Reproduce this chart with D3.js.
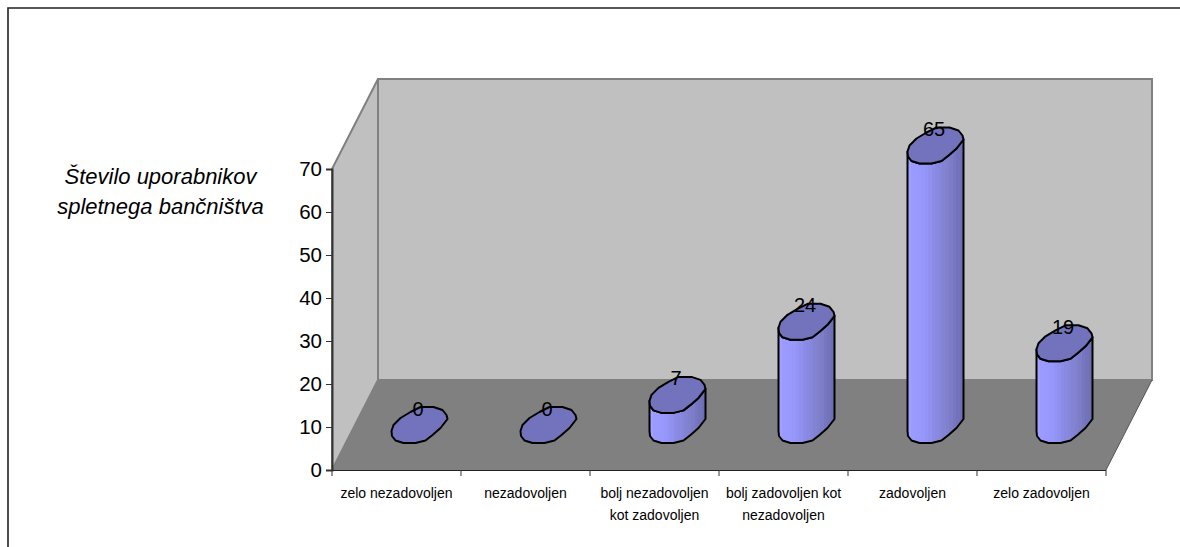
<!DOCTYPE html>
<html>
<head>
<meta charset="utf-8">
<script src="https://cdnjs.cloudflare.com/ajax/libs/d3/7.8.5/d3.min.js"></script>
<style>
html,body{margin:0;padding:0;background:#fff}
svg{display:block}
text{font-family:"Liberation Sans",Arial,sans-serif;fill:#000}
</style>
</head>
<body>
<svg id="chart" width="1180" height="547"></svg>
<script>
const categories = [
  ["zelo nezadovoljen"],
  ["nezadovoljen"],
  ["bolj nezadovoljen", "kot zadovoljen"],
  ["bolj zadovoljen kot", "nezadovoljen"],
  ["zadovoljen"],
  ["zelo zadovoljen"]
];
const values = [0, 0, 7, 24, 65, 19];
const yTicks = [0, 10, 20, 30, 40, 50, 60, 70];
const axisTitle = ["Število uporabnikov", "spletnega bančništva"];

// Plot box of the 3-D chart: front edge and the offset of the back wall.
const plotLeft = 332, plotRight = 1106, plotBottom = 470, plotTop = 169;
const depthX = 46, depthY = -90;

const svg = d3.select("#chart");
const x = d3.scaleBand().domain(d3.range(categories.length)).range([plotLeft, plotRight]);
const y = d3.scaleLinear().domain([0, 70]).range([plotBottom, plotTop]);

// Outer frame
svg.append("path").attr("d", "M8,547V8H1180")
  .attr("fill", "none").attr("stroke", "#222").attr("stroke-width", 1.6);

// Walls and floor
const wallStroke = "#808080";
svg.append("path")
  .attr("d", `M${plotLeft},${plotBottom}L${plotLeft},${plotTop}L${plotLeft + depthX},${plotTop + depthY}L${plotLeft + depthX},${plotBottom + depthY}Z`)
  .attr("fill", "#c0c0c0").attr("stroke", wallStroke).attr("stroke-width", 2);
svg.append("rect")
  .attr("x", plotLeft + depthX).attr("y", plotTop + depthY)
  .attr("width", plotRight - plotLeft).attr("height", plotBottom - plotTop)
  .attr("fill", "#c0c0c0").attr("stroke", wallStroke).attr("stroke-width", 2);
svg.append("path")
  .attr("d", `M${plotLeft},${plotBottom}L${plotRight},${plotBottom}L${plotRight + depthX},${plotBottom + depthY}L${plotLeft + depthX},${plotBottom + depthY}Z`)
  .attr("fill", "#808080");
svg.append("line")
  .attr("x1", plotRight).attr("y1", plotBottom)
  .attr("x2", plotRight + depthX).attr("y2", plotBottom + depthY)
  .attr("stroke", "#555").attr("stroke-width", 1);

// Axes
const axisColor = "#333";
const yAxis = svg.append("g").attr("transform", `translate(${plotLeft},0)`)
  .call(d3.axisLeft(y).tickValues(yTicks).tickSize(6).tickPadding(4));
yAxis.select(".domain").attr("stroke", axisColor).attr("stroke-width", 2);
yAxis.selectAll(".tick line").attr("stroke", axisColor);
yAxis.selectAll(".tick text").attr("font-size", 20.5)
  .style("font-family", '"Liberation Sans",Arial,sans-serif').attr("fill", "#000");

svg.append("line").attr("x1", plotLeft).attr("x2", plotRight).attr("y1", plotBottom + .5).attr("y2", plotBottom + .5)
  .attr("stroke", "#222").attr("stroke-width", 1.2);
const xEdges = d3.range(categories.length + 1).map(i => plotLeft + i * x.step());
svg.selectAll(".xtick").data(xEdges).join("line").attr("class", "xtick")
  .attr("x1", d => d).attr("x2", d => d).attr("y1", plotBottom).attr("y2", plotBottom + 6)
  .attr("stroke", "#333");

// Category labels
const catLabels = svg.selectAll(".cat").data(categories).join("text").attr("class", "cat")
  .attr("text-anchor", "middle").attr("font-size", 14);
catLabels.selectAll("tspan").data((d, i) => d.map(t => ({ t, i }))).join("tspan")
  .attr("x", d => x(d.i) + x.bandwidth() / 2)
  .attr("y", (d, j) => 498 + j * 22)
  .text(d => d.t);

// Axis title
svg.selectAll(".ytitle").data(axisTitle).join("text").attr("class", "ytitle")
  .attr("x", 160.5).attr("y", (d, i) => 184 + i * 30)
  .attr("text-anchor", "middle").attr("font-size", 22).attr("font-style", "italic")
  .text(d => d);

// Cylinder footprint as a faceted outline around its centre, clockwise from the
// right-hand side; the first nine vertices form the front half.
const capOutline = [
  [28, -6], [21, 3], [13, 10], [6, 15.5], [-4, 18], [-16, 18], [-24, 15.5], [-27.5, 11], [-28, 6],
  [-26, 0], [-19, -7], [-9, -13], [1, -18], [14, -18], [23, -15], [27, -10]
];
const frontCount = 9;
const place = (cx, cy) => ([dx, dy]) => [cx + dx, cy + dy];
const capLine = d3.line().curve(d3.curveLinearClosed);

// Shading across the body, in narrow upright bands.
const bodyShade = d3.scaleLinear()
  .domain([0, 0.12, 0.3, 0.5, 0.75, 1])
  .range(["#a3a3ff", "#9999ff", "#9797fb", "#8a8ae4", "#7e7eca", "#6c6cb2"]);
const bandCount = 16;
const grad = svg.append("defs").append("linearGradient").attr("id", "cylinderBody");
d3.range(bandCount).forEach(b => {
  const colour = bodyShade((b + 0.5) / bandCount);
  grad.append("stop").attr("offset", b / bandCount).attr("stop-color", colour);
  grad.append("stop").attr("offset", (b + 1) / bandCount).attr("stop-color", colour);
});

const baseY = plotBottom + depthY / 2;
const columns = svg.selectAll(".column").data(values).join("g").attr("class", "column");
columns.each(function (v, i) {
  const g = d3.select(this);
  const cx = x(i) + x.bandwidth() / 2 + depthX / 2;
  const topY = y(v) + depthY / 2;
  const front = capOutline.slice(0, frontCount);

  if (v > 0) {
    // Silhouette: the front half of the base joined to the front half of the cap.
    const lower = front.map(place(cx, baseY));
    const upper = front.map(place(cx, topY)).reverse();
    g.append("path").attr("d", capLine([...lower, ...upper]))
      .attr("fill", "url(#cylinderBody)").attr("stroke", "#000")
      .attr("stroke-width", 2).attr("stroke-linejoin", "round");
  }
  g.append("path").attr("d", capLine(capOutline.map(place(cx, topY))))
    .attr("fill", "#7373bd").attr("stroke", "#000")
    .attr("stroke-width", 2).attr("stroke-linejoin", "round");
  g.append("text").attr("x", cx - 1.5).attr("y", topY - 9.5)
    .attr("text-anchor", "middle").attr("font-size", 20).text(v);
});
</script>
</body>
</html>
